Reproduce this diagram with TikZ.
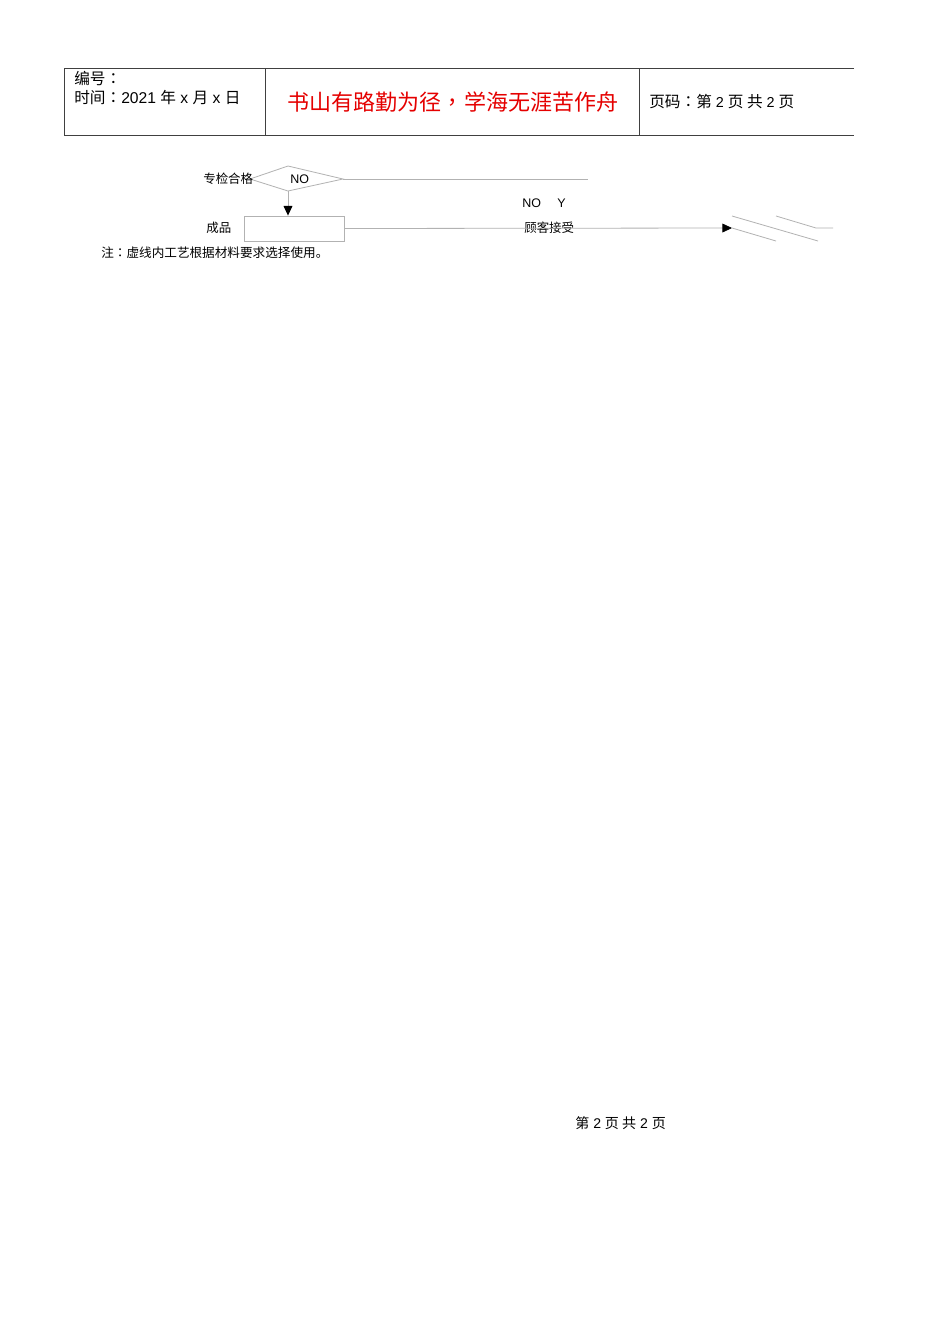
\documentclass[tikz,border=0pt]{standalone}
\usepackage{fontspec}
\setmainfont{Noto Sans CJK SC}
\newfontfamily\tcfont{Noto Sans CJK TC}
\newfontfamily\latfont{Liberation Sans}
\newcommand{\cc}{{\tcfont ：}}
\usetikzlibrary{arrows.meta}
\tikzset{
  txt/.style = {inner sep = 0pt, anchor = west},
  flowline/.style = {draw = black!30, line width = 0.5pt},
  tip/.style = {-{Triangle[color = black, length = 6pt, width = 5.5pt]}}
}
\begin{document}
\begin{tikzpicture}[x = 0.6263pt, y = -0.6263pt]
            \useasboundingbox[fill = white] (0, 0) rectangle (950, 1344);
            % header table
            \draw[black!75, line width = 0.6pt] (854, 68) -- (64, 68) -- (64, 135) -- (854, 135);
            \foreach\x in {265, 639} {\draw[black!75, line width = 0.6pt] (\x, 68) -- (\x, 135);};
            \node[txt, font = \fontsize{9.8pt}{11pt}\selectfont] (num) at (74, 78) {编号\cc};
            \node[txt, font = \fontsize{9.8pt}{11pt}\selectfont] (time) at (74, 98) {时间\cc{\latfont 2021 }年{\latfont\ x }月{\latfont\ x }日};
            \node[inner sep = 0pt, text = red!90!black, font = \fontsize{13.8pt}{15pt}\selectfont] (motto) at (453, 102) {书山有路勤为径{\tcfont ，}学海无涯苦作舟};
            \node[txt, font = \fontsize{9.8pt}{11pt}\selectfont] (page) at (649, 102) {页码\cc 第{\latfont\small\ 2 }页 共{\latfont\small\ 2 }页};
            % flow
            \coordinate (dl) at (250, 179);
            \coordinate (dt) at (288, 166);
            \coordinate (dr) at (343, 179);
            \coordinate (db) at (288, 191);
            \draw[flowline] (dl) -- (dt) -- (dr) -- (db) -- cycle;
            \coordinate (noend) at (588, 179);
            \draw[flowline] (dr) -- (noend);
            \node[txt, font = \fontsize{7.8pt}{9pt}\selectfont] (check) at (203, 179) {专检合格};
            \node[txt, font = \latfont\fontsize{7.8pt}{9pt}\selectfont] (no1) at (290, 179) {NO};
            \node[flowline, minimum width = 62.6pt, minimum height = 15.7pt, inner sep = 0pt] (product) at (294, 228.5) {};
            \node[txt, font = \fontsize{7.8pt}{9pt}\selectfont] (productlbl) at (206, 228) {成品};
            \draw[flowline, tip] (db) -- (db |- product.north);
            \node[txt, font = \fontsize{7.8pt}{9pt}\selectfont] (accept) at (524, 228) {顾客接受};
            \node[txt, font = \latfont\fontsize{7.8pt}{9pt}\selectfont] (no2) at (522, 203) {NO};
            \node[txt, font = \latfont\fontsize{7.8pt}{9pt}\selectfont] (yes) at (557, 203) {Y};
            \coordinate (arr) at (732, 228);
            \draw[flowline, tip] (product.east) -- (arr);
            \coordinate (a1) at (732, 216); \coordinate (a2) at (818, 241);
            \coordinate (b2) at (776, 241);
            \coordinate (c1) at (776, 216); \coordinate (c2) at (816, 228); \coordinate (c3) at (833, 228);
            \draw[flowline] (a1) -- (a2);
            \draw[flowline] (arr) -- (b2);
            \draw[flowline] (c1) -- (c2) -- (c3);
            \node[txt, font = \fontsize{7.9pt}{9pt}\selectfont] (note) at (101, 253) {注\cc 虚线内工艺根据材料要求选择使用。};
            % footer
            \node[txt, font = \fontsize{8.8pt}{10pt}\selectfont] (footer) at (575, 1123) {第{\latfont\ 2 }页 共{\latfont\ 2 }页};
        \end{tikzpicture}
\end{document}
